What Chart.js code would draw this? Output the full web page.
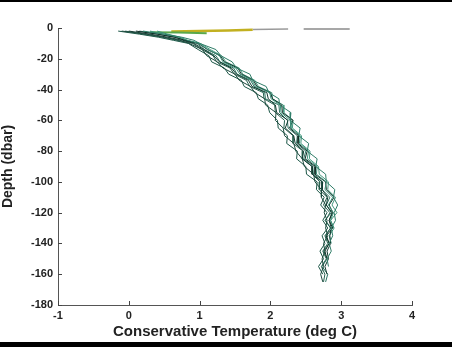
<!DOCTYPE html>
<html>
<head>
<meta charset="utf-8">
<script src="https://cdn.jsdelivr.net/npm/chart.js@4.4.1/dist/chart.umd.min.js"></script>
<style>
    html, body { margin: 0; padding: 0; background: #000; }
    #wrap { margin-top: 2px; width: 452px; height: 340px; background: #fff; }
    canvas { display: block; }
</style>
</head>
<body>
<div id="wrap"><canvas id="profileChart" width="452" height="340"></canvas></div>
<script>
// pressure levels (dbar, negative down) shared by all casts
const depths = [-2, -4, -6, -8, -10, -14, -18, -22, -26, -30, -34, -38, -42, -46, -50,
    -55, -60, -65, -70, -75, -80, -85, -90, -95, -100, -105, -110, -115, -120, -125,
    -130, -135, -140, -145, -150, -155, -160, -165];

// conservative temperature per cast (deg C), null below the bottom of the cast
const cast1 = [-0.10, 0.25, 0.50, 0.72, 0.85, 1.04, 1.10, 1.25, 1.33, 1.50, 1.56, 1.72, 1.78, 1.92, 1.93,
    2.08, 2.07, 2.18, 2.20, 2.33, 2.36, 2.45, 2.48, 2.61, 2.63, 2.72, 2.72, 2.78, 2.76, 2.80,
    2.78, 2.81, 2.75, 2.77, 2.73, 2.75, 2.71, 2.74];
const cast2 = [0.20, 0.50, 0.75, 0.92, 1.00, 1.23, 1.30, 1.46, 1.52, 1.71, 1.75, 1.94, 1.98, 2.12, 2.13,
    2.29, 2.28, 2.42, 2.40, 2.54, 2.52, 2.66, 2.64, 2.78, 2.79, 2.91, 2.89, 2.95, 2.90, 2.92,
    2.86, 2.88, 2.83, 2.86, 2.80, 2.82, null, null];
const cast3 = [0.00, 0.30, 0.55, 0.76, 0.92, 1.06, 1.20, 1.28, 1.45, 1.52, 1.69, 1.74, 1.95, 1.97, 2.07,
    2.09, 2.25, 2.21, 2.33, 2.35, 2.47, 2.45, 2.59, 2.59, 2.73, 2.73, 2.81, 2.79, 2.87, 2.83,
    2.86, 2.84, 2.85, 2.80, 2.82, 2.77, 2.80, null];
const cast4 = [0.40, 0.55, 0.72, 0.83, 0.99, 1.12, 1.28, 1.33, 1.51, 1.57, 1.74, 1.79, 1.99, 2.01, 2.14,
    2.15, 2.28, 2.29, 2.42, 2.41, 2.54, 2.52, 2.66, 2.65, 2.79, 2.77, 2.88, 2.82, 2.89, 2.85,
    2.90, 2.83, 2.86, null, null, null, null, null];
const cast5 = [-0.05, 0.20, 0.47, 0.68, 0.90, 1.03, 1.19, 1.24, 1.43, 1.49, 1.66, 1.71, 1.90, 1.91, 2.06,
    2.07, 2.20, 2.19, 2.32, 2.32, 2.46, 2.45, 2.59, 2.59, 2.70, 2.69, 2.80, 2.75, 2.84, 2.78,
    2.85, 2.77, 2.81, 2.74, 2.79, 2.72, 2.77, 2.75];
const cast6 = [0.10, 0.40, 0.64, 0.80, 0.98, 1.11, 1.29, 1.35, 1.54, 1.59, 1.76, 1.81, 2.00, 2.03, 2.16,
    2.17, 2.32, 2.27, 2.40, 2.39, 2.52, 2.49, 2.64, 2.63, 2.78, 2.79, 2.90, 2.83, 2.88, 2.83,
    2.88, 2.79, 2.83, 2.77, 2.80, null, null, null];
const cast7 = [0.15, 0.42, 0.67, 0.78, 0.96, 1.07, 1.23, 1.29, 1.48, 1.53, 1.72, 1.77, 1.92, 1.93, 2.12,
    2.13, 2.24, 2.25, 2.38, 2.37, 2.50, 2.47, 2.62, 2.61, 2.74, 2.73, 2.84, 2.79, 2.86, 2.77,
    2.85, 2.78, 2.83, 2.75, 2.80, 2.73, 2.81, 2.78];
const cast8 = [0.30, 0.50, 0.70, 0.82, 1.01, 1.15, 1.31, 1.37, 1.56, 1.61, 1.78, 1.83, 2.02, 2.03, 2.18,
    2.19, 2.32, 2.31, 2.44, 2.43, 2.56, 2.55, 2.68, 2.69, 2.82, 2.81, 2.92, 2.87, 2.94, 2.85,
    2.89, null, null, null, null, null, null, null];
const cast9 = [-0.15, 0.15, 0.42, 0.63, 0.84, 0.98, 1.13, 1.17, 1.35, 1.41, 1.59, 1.63, 1.80, 1.83, 1.96,
    1.99, 2.10, 2.11, 2.24, 2.23, 2.38, 2.37, 2.50, 2.51, 2.66, 2.65, 2.76, 2.71, 2.80, 2.74,
    2.81, 2.73, 2.77, 2.70, 2.75, 2.68, 2.74, null];

const casts = [cast1, cast2, cast3, cast4, cast5, cast6, cast7, cast8, cast9];
const castColors = ['#1d4a3e', '#2f7d68', '#123a30', '#3a8f77', '#26624f', '#0e2a23', '#2a7360', '#44987e', '#1a5545'];

// shallow surface casts
const greenT = [0.30, 0.70, 1.10];
const greenD = [-2.8, -3.0, -3.4];
const yellowT = [0.60, 1.00, 1.40, 1.75];
const yellowD = [-2.2, -2.0, -1.6, -1.2];
const greyT1 = [1.75, 2.25];
const greyD1 = [-1.0, -0.7];
const greyT2 = [2.47, 3.12];
const greyD2 = [-0.6, -0.6];

// axis ticks
const xTicks = [-1, 0, 1, 2, 3, 4];
const yTicks = [0, -20, -40, -60, -80, -100, -120, -140, -160, -180];

function toPoints(temps, levels) {
    const pts = [];
    temps.forEach((t, i) => {
        if (t !== null) pts.push({ x: t, y: levels[i] });
    });
    return pts;
}

function lineSet(points, color, width) {
    return {
        data: points,
        showLine: true,
        borderColor: color,
        borderWidth: width,
        pointRadius: 0,
        tension: 0,
        fill: false,
    };
}

const datasets = casts.map((c, i) => lineSet(toPoints(c, depths), castColors[i], 1));
datasets.push(lineSet(toPoints(greenT, greenD), '#5aa84a', 2));
datasets.push(lineSet(toPoints(yellowT, yellowD), '#c2b020', 2.5));
datasets.push(lineSet(toPoints(greyT1, greyD1), '#9a9a9a', 1.5));
datasets.push(lineSet(toPoints(greyT2, greyD2), '#8a8a8a', 1.5));

// short inward tick marks, matlab style
const innerTicks = {
    id: 'innerTicks',
    afterDraw(chart) {
        const { ctx, chartArea, scales } = chart;
        ctx.save();
        ctx.strokeStyle = '#444';
        ctx.lineWidth = 1;
        ctx.beginPath();
        xTicks.forEach(v => {
            const px = Math.round(scales.x.getPixelForValue(v)) + 0.5;
            ctx.moveTo(px, chartArea.bottom);
            ctx.lineTo(px, chartArea.bottom - 4);
        });
        yTicks.forEach(v => {
            const py = Math.round(scales.y.getPixelForValue(v)) + 0.5;
            ctx.moveTo(chartArea.left, py);
            ctx.lineTo(chartArea.left + 4, py);
        });
        ctx.stroke();
        ctx.restore();
    }
};

const tickFont = { family: 'Liberation Sans, Arial, sans-serif', size: 11, weight: 'bold' };
const xTitleFont = { family: 'Liberation Sans, Arial, sans-serif', size: 15, weight: 'bold' };
const yTitleFont = { family: 'Liberation Sans, Arial, sans-serif', size: 14, weight: 'bold' };

new Chart(document.getElementById('profileChart').getContext('2d'), {
    type: 'scatter',
    data: { datasets: datasets },
    options: {
        responsive: false,
        animation: false,
        devicePixelRatio: 1,
        layout: { padding: { top: 26, right: 40, left: 0, bottom: 0 } },
        plugins: { legend: { display: false }, tooltip: { enabled: false } },
        scales: {
            x: {
                type: 'linear',
                min: -1,
                max: 4,
                afterBuildTicks: scale => { scale.ticks = xTicks.map(v => ({ value: v })); },
                afterFit: scale => { scale.height = 37; },
                ticks: { font: tickFont, color: '#222', padding: 4 },
                grid: { drawOnChartArea: false, drawTicks: false },
                border: { display: true, color: '#555', width: 1 },
                title: {
                    display: true,
                    text: 'Conservative Temperature (deg C)',
                    font: xTitleFont,
                    color: '#222',
                    padding: { top: 0, bottom: 1 },
                },
            },
            y: {
                type: 'linear',
                min: -180,
                max: 0,
                afterBuildTicks: scale => { scale.ticks = yTicks.map(v => ({ value: v })); },
                afterFit: scale => { scale.width = 58; },
                ticks: { font: tickFont, color: '#222', padding: 5 },
                grid: { drawOnChartArea: false, drawTicks: false },
                border: { display: true, color: '#555', width: 1 },
                title: {
                    display: true,
                    text: 'Depth (dbar)',
                    font: yTitleFont,
                    color: '#222',
                    padding: { top: 0, bottom: 5 },
                },
            },
        },
    },
    plugins: [innerTicks],
});
</script>
</body>
</html>
